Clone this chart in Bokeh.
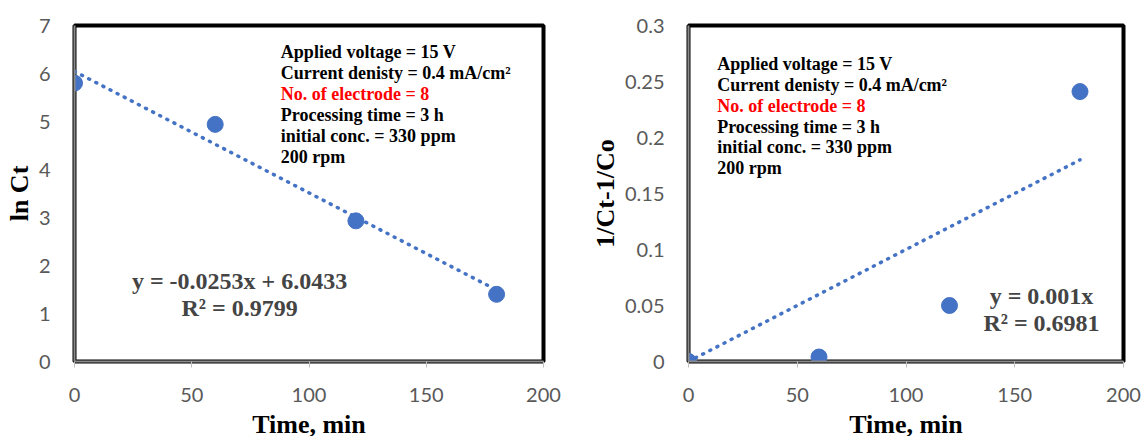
from bokeh.plotting import figure
from bokeh.layouts import row
from bokeh.models import ColumnDataSource, Label, FixedTicker
from bokeh.embed import file_html
from bokeh.resources import INLINE

# ---- data ----
time_min = [0, 60, 120, 180]
ln_ct = [5.80, 4.94, 2.93, 1.40]
inv_c = [0.0, 0.004, 0.050, 0.241]

fit1_slope, fit1_icpt = -0.0253, 6.0433
fit2_slope = 0.001

x_ticks = [0, 50, 100, 150, 200]
y1_ticks = [0, 1, 2, 3, 4, 5, 6, 7]
y2_ticks = [0, 0.05, 0.1, 0.15, 0.2, 0.25, 0.3]
x_title = "Time, min"

info_lines = ["Applied voltage = 15 V",
              "Current denisty = 0.4 mA/cm\u00b2",
              "No. of electrode = 8",
              "Processing time = 3 h",
              "initial conc. = 330 ppm",
              "200 rpm"]
info_colors = ["black", "black", "#ff0000", "black", "black", "black"]

BLUE = "#4472C4"
TICKC = "#595959"
SERIF = "Liberation Serif"
SANS = "Lato"


def style(p, yticks, ylab):
    p.xgrid.visible = False
    p.ygrid.visible = False
    p.outline_line_color = "black"
    p.outline_line_width = 4
    p.outline_line_alpha = 1.0
    p.xaxis.ticker = FixedTicker(ticks=x_ticks)
    p.yaxis.ticker = FixedTicker(ticks=yticks)
    for ax in (p.xaxis[0], p.yaxis[0]):
        ax.axis_line_color = "#8a8a8a"
        ax.axis_line_width = 2
        ax.major_label_text_font = SANS
        ax.major_label_text_font_size = "20px"
        ax.major_label_text_color = TICKC
        ax.minor_tick_line_color = None
        ax.axis_label_text_font = SERIF
        ax.axis_label_text_font_style = "bold"
        ax.axis_label_text_font_size = "26px"
        ax.axis_label_text_color = "black"
    p.xaxis.major_tick_in = 0
    p.xaxis.major_tick_out = 6
    p.xaxis.major_tick_line_color = "#bfbfbf"
    p.yaxis.major_tick_in = 0
    p.yaxis.major_tick_out = 0
    p.xaxis.major_label_standoff = 20
    p.yaxis.major_label_standoff = 24
    p.xaxis.axis_label = x_title
    p.yaxis.axis_label = ylab
    p.xaxis.axis_label_standoff = 5
    p.yaxis.axis_label_standoff = 2


# ---- left chart ----
p1 = figure(frame_width=469, frame_height=336, x_range=(0, 200), y_range=(0, 7),
            output_backend="svg", toolbar_location=None,
            min_border_left=74, min_border_right=27,
            min_border_top=25, min_border_bottom=60)
style(p1, y1_ticks, "ln Ct")
fx1 = [0, 180]
fy1 = [fit1_icpt + fit1_slope * v for v in fx1]
p1.line(fx1, fy1, line_color=BLUE, line_width=3.5, line_dash="1 7", line_cap="round")
p1.scatter(x="x", y="y", source=ColumnDataSource(dict(x=time_min, y=ln_ct)),
           size=16, color=BLUE)
for i, (t, c) in enumerate(zip(info_lines, info_colors)):
    p1.add_layout(Label(x=88.0, y=6.444 - 0.4375 * i, text=t, text_color=c,
                        text_font=SERIF, text_font_style="bold", text_font_size="18px",
                        text_baseline="middle"))
p1.add_layout(Label(x=70.4, y=1.6875, text="y = -0.0253x + 6.0433", text_font=SERIF,
                    text_font_style="bold", text_font_size="24px",
                    text_align="center", text_baseline="middle"))
p1.add_layout(Label(x=70.4, y=1.125, text="R\u00b2 = 0.9799", text_font=SERIF,
                    text_font_style="bold", text_font_size="24px",
                    text_align="center", text_baseline="middle"))

# ---- right chart ----
p2 = figure(frame_width=435, frame_height=336, x_range=(0, 200), y_range=(0, 0.3),
            output_backend="svg", toolbar_location=None,
            min_border_left=118, min_border_right=19,
            min_border_top=25, min_border_bottom=60)
style(p2, y2_ticks, "1/Ct-1/Co")
fx2 = [0, 180]
fy2 = [fit2_slope * v for v in fx2]
p2.line(fx2, fy2, line_color=BLUE, line_width=3.5, line_dash="1 7", line_cap="round")
p2.scatter(x="x", y="y", source=ColumnDataSource(dict(x=time_min, y=inv_c)),
           size=16, color=BLUE)
for i, (t, c) in enumerate(zip(info_lines, info_colors)):
    p2.add_layout(Label(x=13.2, y=0.2652 - 0.01848 * i, text=t, text_color=c,
                        text_font=SERIF, text_font_style="bold", text_font_size="18px",
                        text_baseline="middle"))
p2.add_layout(Label(x=162.3, y=0.0589, text="y = 0.001x", text_font=SERIF,
                    text_font_style="bold", text_font_size="24px",
                    text_align="center", text_baseline="middle"))
p2.add_layout(Label(x=162.3, y=0.0348, text="R\u00b2 = 0.6981", text_font=SERIF,
                    text_font_style="bold", text_font_size="24px",
                    text_align="center", text_baseline="middle"))

layout = row(p1, p2, spacing=0)
open("out.html", "w").write(file_html(layout, INLINE))
